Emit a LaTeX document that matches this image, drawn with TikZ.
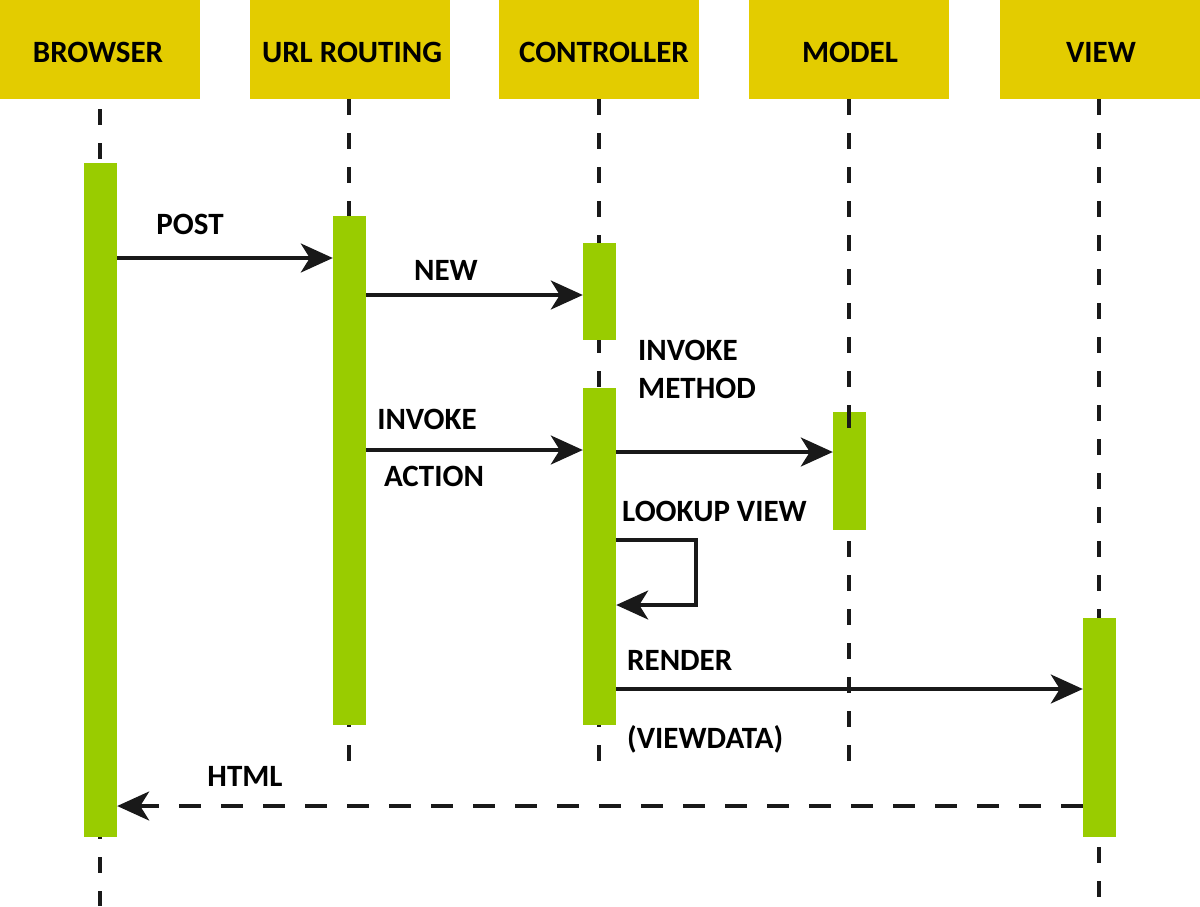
\documentclass[tikz,border=0pt]{standalone}
\usepackage{fontspec}
\setmainfont{Carlito}
\usetikzlibrary{arrows.meta}
\definecolor{headyellow}{RGB}{227,204,0}
\definecolor{actgreen}{RGB}{153,204,0}
\begin{document}
\begin{tikzpicture}[x=1pt,y=-1pt,
  head/.style={fill=headyellow,minimum width=200pt,minimum height=99pt,inner sep=0pt},
  bar/.style={fill=actgreen,minimum width=33pt,inner sep=0pt},
  life/.style={line width=3.5pt,dash pattern=on 16pt off 18pt,black!90},
  msg/.style={line width=3.5pt,black!90,-{Stealth[length=32pt,width=29pt,inset=9pt]}},
  rmsg/.style={msg,dash pattern=on 22pt off 20pt},
  lbl/.style={font=\bfseries\fontsize{31}{33}\selectfont,inner sep=0pt},
]
\useasboundingbox (0,0) rectangle (1200,906);
% headers
\node[head] (hb) at (100,49.5) {};
\node[head] (hu) at (350,49.5) {};
\node[head] (hc) at (599,49.5) {};
\node[head] (hm) at (848.5,49.5) {};
\node[head] (hv) at (1099.5,49.5) {};
\node[lbl,anchor=base] (tb) at (98,62) {BROWSER};
\node[lbl,anchor=base] (tu) at (352,62) {URL ROUTING};
\node[lbl,anchor=base] (tc) at (604,62) {CONTROLLER};
\node[lbl,anchor=base] (tm) at (850,62) {MODEL};
\node[lbl,anchor=base] (tv) at (1101,62) {VIEW};
% lifeline ends
\coordinate (eb) at (100,906);
\coordinate (eu) at (349,775);
\coordinate (ec) at (599,775);
\coordinate (em) at (849,775);
\coordinate (ev) at (1099,906);
\draw[life] (hb.south -| eb) ++(0,10) -- (eb);
\draw[life] (hu.south -| eu) -- (eu);
\draw[life] (hc.south -| ec) -- (ec);
\draw[life] (hm.south -| em) -- (em);
\draw[life] (hv.south -| ev) -- (ev);
% activation bars
\node[bar,minimum height=674pt] (ab) at (100.5,500) {};
\node[bar,minimum height=509pt] (au) at (349.5,470.5) {};
\node[bar,minimum height=97pt] (ac1) at (599.5,291.5) {};
\node[bar,minimum height=337pt] (ac2) at (599.5,556.5) {};
\node[bar,minimum height=118pt] (am) at (849.5,471) {};
\node[bar,minimum height=219pt] (av) at (1099.5,727.5) {};
\draw[life] (849,412) -- (849,440);
% message rows
\coordinate (y1) at (0,258);
\coordinate (y2) at (0,295);
\coordinate (y3) at (0,450);
\coordinate (y4) at (0,452);
\coordinate (y5) at (0,689);
\coordinate (y6) at (0,806);
\coordinate (lr1) at (696,540);
\coordinate (lr2) at (696,605);
\draw[msg] (ab.east |- y1) -- (au.west |- y1);
\draw[msg] (au.east |- y2) -- (ac1.west |- y2);
\draw[msg] (au.east |- y3) -- (ac2.west |- y3);
\draw[msg] (ac2.east |- y4) -- (am.west |- y4);
\draw[msg] (ac2.east |- lr1) -- (lr1) -- (lr2) -- (ac2.east |- lr2);
\draw[msg] (ac2.east |- y5) -- (av.west |- y5);
\draw[rmsg] (av.west |- y6) -- (ab.east |- y6);
% labels
\node[lbl,anchor=base] (lpost) at (190,234) {POST};
\node[lbl,anchor=base] (lnew) at (446,280) {NEW};
\node[lbl,anchor=base] (linv1) at (427,429) {INVOKE};
\node[lbl,anchor=base] (lact) at (434,486) {ACTION};
\node[lbl,anchor=base west] (linv2) at (638,360) {INVOKE};
\node[lbl,anchor=base west] (lmeth) at (638,398) {METHOD};
\node[lbl,anchor=base west] (llook) at (622,521) {LOOKUP VIEW};
\node[lbl,anchor=base west] (lrend) at (627,670) {RENDER};
\node[lbl,anchor=base west] (lvd) at (627,748) {(VIEWDATA)};
\node[lbl,anchor=base] (lhtml) at (245,786) {HTML};
\end{tikzpicture}
\end{document}
